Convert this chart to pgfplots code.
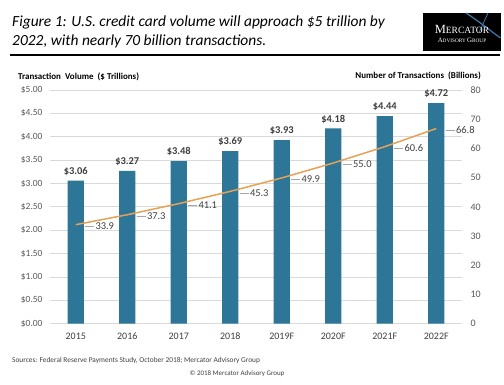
\documentclass[border=0pt]{standalone}
\usepackage{fontspec}
\setmainfont{Carlito}
\newfontfamily\logofont{Liberation Serif}
\usepackage{pgfplots}
\pgfplotsset{compat=1.18}
\definecolor{barblue}{HTML}{2E7698}
\definecolor{lineor}{HTML}{E6A157}
\definecolor{gridc}{HTML}{D9D9D9}
\definecolor{ticktxt}{HTML}{595959}
\definecolor{lbl}{HTML}{404040}
\definecolor{leader}{HTML}{A6A6A6}
\definecolor{swoosh}{HTML}{3E7AA8}
\pgfplotsset{/pgf/number format/assume math mode=true}
\begin{document}
\begin{tikzpicture}[x=1bp,y=1bp]
\path[use as bounding box, fill=white] (0,0) rectangle (504,384);
% title
\node[anchor=base west, inner sep=0, font=\fontsize{15.5}{18}\selectfont\itshape] at (12,358) {Figure 1: U.S. credit card volume will approach \$5 trillion by};
\node[anchor=base west, inner sep=0, font=\fontsize{15.5}{18}\selectfont\itshape] at (12,339) {2022, with nearly 70 billion transactions.};
\draw[line width=1.5bp] (10,329) -- (500,329);
% logo
\fill[black] (423,333) rectangle (500.5,371);
\draw[swoosh, line width=1.2bp] (466,371) .. controls (480,362) and (492,352) .. (500.5,346);
\draw[swoosh, line width=0.8bp] (488,371) .. controls (484,362) and (481,356) .. (479,351);
\node[anchor=base, inner sep=0, text=white, font=\logofont] at (462,351) {{\fontsize{12.5}{12}\selectfont M}{\fontsize{9.6}{10}\selectfont ERCATOR}};
\node[anchor=base, inner sep=0, text=white, font=\logofont] at (462,342) {{\fontsize{6.8}{7}\selectfont A}{\fontsize{5.3}{6}\selectfont DVISORY }{\fontsize{6.8}{7}\selectfont G}{\fontsize{5.3}{6}\selectfont ROUP}};
% axis titles
\node[anchor=base west, inner sep=0, font=\bfseries\fontsize{9}{10}\selectfont, text=black] at (18,305) {Transaction\ \ Volume\ \ (\$ Trillions)};
\node[anchor=base east, inner sep=0, font=\bfseries\fontsize{9}{10}\selectfont, text=black] at (481,306) {Number of Transactions\ \ (Billions)};
% sources
\node[anchor=base west, inner sep=0, font=\fontsize{7.4}{8}\selectfont, text=lbl] at (12,22) {Sources: Federal Reserve Payments Study, October 2018; Mercator Advisory Group};
\node[anchor=base, inner sep=0, font=\fontsize{7}{8}\selectfont, text=lbl] at (237,9) {\textcopyright{} 2018 Mercator Advisory Group};

\begin{axis}[
  at={(50bp,60.3bp)}, anchor=south west, scale only axis,
  width=412bp, height=233.7bp,
  xmin=-0.5, xmax=7.5, ymin=0, ymax=5,
  axis line style={draw=none}, major tick length=0pt,
  ymajorgrids, grid style={gridc, line width=0.8bp},
  xtick={0,1,2,3,4,5,6,7},
  xticklabels={2015,2016,2017,2018,2019F,2020F,2021F,2022F},
  ytick={0,0.5,1,1.5,2,2.5,3,3.5,4,4.5,5},
  yticklabel={\$\pgfmathprintnumber[fixed,fixed zerofill,precision=2]{\tick}},
  yticklabel style={font=\fontsize{9.5}{10}\selectfont, text=ticktxt, xshift=-4bp},
  xticklabel style={font=\fontsize{10}{11}\selectfont, text=lbl, text height=7bp, text depth=0pt, yshift=-5bp},
]
\addplot[ybar, bar width=16.3bp, fill=barblue, draw=none,
  nodes near coords={\$\pgfmathprintnumber[fixed,fixed zerofill,precision=2]{\pgfplotspointmeta}},
  every node near coord/.append style={font=\bfseries\fontsize{10.5}{11}\selectfont, text=lbl, anchor=south, inner sep=0pt, yshift=5bp}]
coordinates {(0,3.06) (1,3.27) (2,3.48) (3,3.69) (4,3.93) (5,4.18) (6,4.44) (7,4.72)};
\end{axis}

\begin{axis}[
  at={(50bp,60.3bp)}, anchor=south west, scale only axis,
  width=412bp, height=233.7bp,
  xmin=-0.5, xmax=7.5, ymin=0, ymax=80,
  axis x line=none, axis y line*=right,
  axis line style={draw=none}, major tick length=0pt,
  xtick=\empty,
  ytick={0,10,20,30,40,50,60,70,80},
  yticklabel style={font=\fontsize{10}{11}\selectfont, text=ticktxt, xshift=5bp},
]
\addplot[lineor, line width=1.5bp, mark=none,
  nodes near coords={\textcolor{leader}{\rule[0.3em]{9bp}{0.5bp}}\hspace{1.5bp}\pgfmathprintnumber[fixed,fixed zerofill,precision=1]{\pgfplotspointmeta}},
  every node near coord/.append style={font=\fontsize{10.5}{11}\selectfont, text=lbl, anchor=west, inner sep=0pt, xshift=8.5bp, yshift=-1.5bp}]
coordinates {(0,33.9) (1,37.3) (2,41.1) (3,45.3) (4,49.9) (5,55.0) (6,60.6) (7,66.8)};
\end{axis}
\end{tikzpicture}
\end{document}
